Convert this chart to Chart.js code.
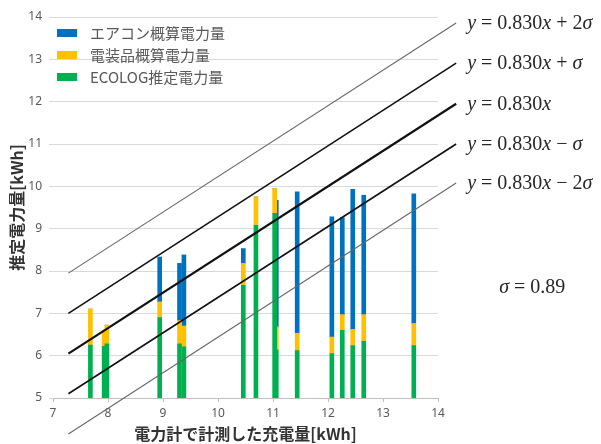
<!DOCTYPE html>
<html>
<head>
<meta charset="utf-8">
<script src="https://cdn.jsdelivr.net/npm/chart.js@4.4.1/dist/chart.umd.min.js"></script>
<style>
  html, body { margin: 0; padding: 0; background: #fff; }
  canvas { display: block; }
</style>
</head>
<body>
<canvas id="chart" width="601" height="444"></canvas>
<script>
// charge measured by the power meter, one entry per bar [kWh]
var chargeKwh = [7.68, 7.93, 7.98, 8.94, 9.30, 9.38, 10.46, 10.69, 11.06, 11.03, 11.44, 12.07, 12.26, 12.45, 12.65, 13.56];

// stacked parts of each bar, bottom to top [kWh]
var ecologKwh = [6.25, 6.22, 6.28, 6.90, 6.28, 6.21, 7.66, 9.08, 6.14, 9.36, 6.12, 6.05, 6.60, 6.24, 6.34, 6.24];
var equipKwh  = [0.85, 0.38, 0.44, 0.37, 0.55, 0.49, 0.52, 0.67, 0.54, 0.59, 0.41, 0.39, 0.37, 0.38, 0.63, 0.52];
var aircoKwh  = [0, 0, 0, 1.06, 1.35, 1.68, 0.35, 0, 2.99, 0, 3.34, 2.84, 2.29, 3.31, 2.82, 3.06];

var seriesNames = ['ECOLOG推定電力量', '電装品概算電力量', 'エアコン概算電力量'];

// reference lines y = 0.830x + k*sigma, end points
var lineX      = [7.28, 14.33];
var lineStartY = [7.95, 7.00, 6.05, 5.10, 4.15];
var lineEndY   = [13.86, 12.91, 11.95, 11.00, 10.08];
var lineLabels = ['y = 0.830x + 2σ', 'y = 0.830x + σ', 'y = 0.830x', 'y = 0.830x − σ', 'y = 0.830x − 2σ'];
var sigmaLabel = 'σ = 0.89';

var xRange = [7, 14];
var yRange = [5, 14];
var xTitle = '電力計で計測した充電量[kWh]';
var yTitle = '推定電力量[kWh]';

var barColors  = ['#00B050', '#FFC000', '#0070C0'];
var lineColors = ['#666666', '#111111', '#111111', '#111111', '#666666'];
var lineWidths = [1.1, 1.6, 2.2, 1.6, 1.1];

function toPoints(values) {
    return values.map(function (v, i) {
        return {x: chargeKwh[i], y: v};
    });
}

var datasets = [ecologKwh, equipKwh, aircoKwh].map(function (values, i) {
    return {
        type: 'bar',
        label: seriesNames[i],
        data: toPoints(values),
        backgroundColor: barColors[i],
        borderWidth: 0,
        barThickness: 4
    };
});

lineStartY.forEach(function (y0, i) {
    datasets.push({
        type: 'line',
        label: lineLabels[i],
        data: [{x: lineX[0], y: y0}, {x: lineX[1], y: lineEndY[i]}],
        borderColor: lineColors[i],
        borderWidth: lineWidths[i],
        pointRadius: 0,
        clip: false,
        stack: 'line' + i, //keep lines out of the bar stack
        order: -1
    });
});

/**
 * drawMath - italic letters, upright digits and operators
 */
function drawMath(ctx, text, x, y) {
    var i, ch, italic;
    ctx.textBaseline = 'middle';
    ctx.textAlign = 'left';
    for (i = 0; i < text.length; i++) {
        ch = text[i];
        italic = 'xyσ'.indexOf(ch) !== -1;
        ctx.font = (italic ? 'italic ' : '') + '20px "Liberation Serif"';
        ctx.fillText(ch, x, y);
        x += ctx.measureText(ch).width;
    }
}

var overlayPlugin = {
    id: 'overlay',
    afterDraw: function (chart) {
        var ctx = chart.ctx,
            xs = chart.scales.x,
            ys = chart.scales.y,
            area = chart.chartArea,
            order = [2, 1, 0],
            labelX, rowY;

        ctx.save();

        //legend, top left inside the plot
        order.forEach(function (d, row) {
            rowY = area.top + 16 + row * 22;
            ctx.fillStyle = chart.data.datasets[d].backgroundColor;
            ctx.fillRect(area.left + 4, rowY - 4, 20, 8);
            ctx.fillStyle = '#595959';
            ctx.font = '15px "Noto Sans CJK JP"';
            ctx.textBaseline = 'middle';
            ctx.textAlign = 'left';
            ctx.fillText(chart.data.datasets[d].label, area.left + 37, rowY);
        });

        //equation labels at the line ends
        ctx.fillStyle = '#262626';
        labelX = xs.getPixelForValue(lineX[1]) + 11;
        lineLabels.forEach(function (t, i) {
            drawMath(ctx, t, labelX, ys.getPixelForValue(lineEndY[i]) + 1);
        });
        drawMath(ctx, sigmaLabel, labelX + 32, ys.getPixelForValue(7.6));

        ctx.restore();
    }
};

new Chart(document.getElementById('chart'), {
    type: 'bar',
    data: {datasets: datasets},
    plugins: [overlayPlugin],
    options: {
        responsive: false,
        animation: false,
        layout: {padding: {top: 17, right: 163, left: 0, bottom: 0}},
        plugins: {
            legend: {display: false},
            tooltip: {enabled: false}
        },
        scales: {
            x: {
                type: 'linear',
                stacked: true,
                offset: false,
                min: xRange[0],
                max: xRange[1],
                afterFit: function (s) { s.height = 46; },
                ticks: {
                    stepSize: 1,
                    padding: 4,
                    color: '#595959',
                    font: {family: 'Noto Sans', size: 12}
                },
                grid: {
                    offset: false,
                    drawOnChartArea: false,
                    tickLength: 4,
                    color: '#bfbfbf'
                },
                border: {display: true, color: '#bfbfbf'},
                title: {
                    display: true,
                    text: xTitle,
                    color: '#333333',
                    padding: {top: 0, bottom: 0},
                    font: {family: 'Noto Sans CJK JP', size: 16, weight: 'bold'}
                }
            },
            y: {
                stacked: true,
                min: yRange[0],
                max: yRange[1],
                afterFit: function (s) { s.width = 53; },
                ticks: {
                    stepSize: 1,
                    padding: 7,
                    color: '#595959',
                    font: {family: 'Noto Sans', size: 12}
                },
                grid: {
                    tickLength: 4,
                    color: '#d9d9d9'
                },
                border: {display: false},
                title: {
                    display: true,
                    text: yTitle,
                    color: '#333333',
                    padding: {top: 7, bottom: 0},
                    font: {family: 'Noto Sans CJK JP', size: 16, weight: 'bold'}
                }
            }
        }
    }
});
</script>
</body>
</html>
